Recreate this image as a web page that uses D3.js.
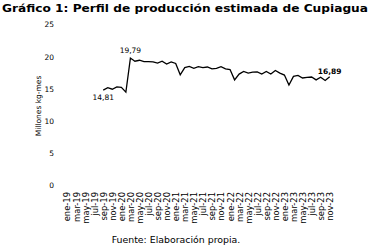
<!DOCTYPE html>
<html><head><meta charset="utf-8">
<script src="https://cdn.jsdelivr.net/npm/d3@7"></script>
<style>body{margin:0;background:#fff}svg{display:block}text{font-family:"DejaVu Sans",Verdana,sans-serif;fill:#000}</style>
</head><body>
<script>
const title = "Gráfico 1: Perfil de producción estimada de Cupiagua";
const yTitle = "Millones kg-mes";
const source = "Fuente: Elaboración propia.";
const monthNames = ["ene","feb","mar","abr","may","jun","jul","ago","sep","oct","nov","dic"];
const years = ["19","20","21","22","23"];
const yTicks = [0,5,10,15,20,25];
// series from sep-19 (index 8) to nov-23 (index 58)
const startIndex = 8;
const values = [
 14.81,15.2,14.95,15.3,15.25,14.5,
 19.79,19.3,19.45,19.25,19.25,19.2,19.0,19.3,18.85,19.2,18.95,
 17.2,18.3,18.5,18.2,18.45,18.3,18.4,18.1,
 18.2,18.45,18.1,18.0,16.4,17.3,17.7,17.45,17.6,17.65,17.3,17.7,17.3,17.85,17.45,17.15,
 15.6,16.95,17.1,16.7,16.8,16.85,16.4,16.8,16.3,16.89
];
const labelIdx = [0, 6, values.length-1];

const categories = [];
years.forEach(y => monthNames.forEach(m => categories.push(m + "-" + y)));
categories.splice(59); // ene-19 .. nov-23

const W = 371, H = 248;
const svg = d3.select("body").append("svg").attr("width", W).attr("height", H);

const x = d3.scalePoint().domain(categories).range([67, 329.7]);
const y = d3.scaleLinear().domain([0, 25]).range([185.5, 24.5]);

svg.append("text").attr("x", 2).attr("y", 11.5)
  .attr("font-size", 10.4).attr("font-weight", "bold").attr("textLength", 366).attr("lengthAdjust","spacingAndGlyphs").text(title);

// y axis
const ya = svg.append("g").attr("transform", "translate(57,0)")
  .call(d3.axisLeft(y).tickValues(yTicks).tickSize(0).tickPadding(3));
ya.select(".domain").remove();
ya.selectAll("text").attr("font-size", 7.5).style("font-family", "DejaVu Sans");

svg.append("text").attr("transform", "translate(40.5,106) rotate(-90)")
  .attr("text-anchor", "middle").attr("font-size", 7.5).text(yTitle);

// x axis labels every 2 months
const xa = svg.append("g").attr("transform", "translate(0,190)")
  .call(d3.axisBottom(x).tickValues(categories.filter((d,i) => i % 2 === 0)).tickSize(0).tickPadding(0));
xa.select(".domain").remove();
xa.selectAll("text").attr("font-size", 8.4).style("font-family", "DejaVu Sans")
  .attr("text-anchor", "end").attr("transform", "rotate(-90)")
  .attr("x", -2).attr("y", 0).attr("dy", "0.35em");

const pts = values.map((v, i) => ({c: categories[startIndex + i], v}));
svg.append("path").datum(pts)
  .attr("fill", "none").attr("stroke", "#000").attr("stroke-width", 1.3)
  .attr("d", d3.line().x(d => x(d.c)).y(d => y(d.v)));

const fmt = v => v.toFixed(2).replace(".", ",");
const lbl = [
  {i: labelIdx[0], dy: 10, w: "normal"},
  {i: labelIdx[1], dy: -5, w: "normal"},
  {i: labelIdx[2], dy: -3, w: "bold"}
];
svg.selectAll(".dl").data(lbl).join("text").attr("class", "dl")
  .attr("x", d => x(pts[d.i].c)).attr("y", d => y(pts[d.i].v) + d.dy)
  .attr("text-anchor", "middle").attr("font-size", 7.5).attr("font-weight", d => d.w)
  .text(d => fmt(pts[d.i].v));

svg.append("text").attr("x", 176).attr("y", 243).attr("text-anchor", "middle")
  .attr("font-size", 9.4).text(source);
</script>
</body></html>
